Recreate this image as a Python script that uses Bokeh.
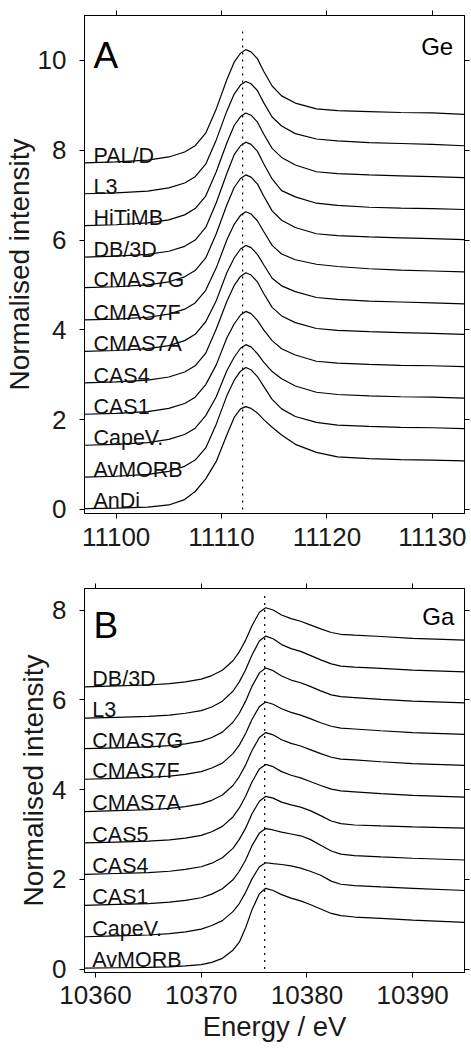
from bokeh.plotting import figure
from bokeh.layouts import column
from bokeh.models import Range1d, LinearAxis, FixedTicker, CustomJSTickFormatter, Label
from bokeh.core.properties import value
from bokeh.embed import file_html
from bokeh.resources import INLINE

FONT = "Liberation Sans"

# ---------------- Panel A: Ge K-edge ----------------
energy_ge = [11097, 11100, 11103, 11105, 11106.5, 11107.5, 11108.5, 11109.5, 11110.5, 11111.2,
             11111.8, 11112.3, 11112.8, 11113.4, 11114, 11114.8, 11115.7, 11117, 11119, 11121,
             11124, 11127, 11130, 11133]
ge_AnDi   = [0.02, 0.03, 0.05, 0.10, 0.22, 0.40, 0.68, 1.07, 1.66, 2.05, 2.24, 2.29, 2.25, 2.15, 2.00, 1.83, 1.66, 1.45, 1.27, 1.17, 1.13, 1.11, 1.10, 1.08]
ge_AvMORB = [0.72, 0.74, 0.78, 0.85, 0.96, 1.10, 1.37, 1.90, 2.53, 2.88, 3.08, 3.16, 3.11, 2.96, 2.74, 2.45, 2.24, 2.07, 1.94, 1.88, 1.85, 1.83, 1.82, 1.80]
ge_CapeV  = [1.43, 1.45, 1.49, 1.56, 1.67, 1.81, 2.09, 2.51, 3.09, 3.39, 3.59, 3.67, 3.62, 3.47, 3.28, 3.07, 2.91, 2.75, 2.61, 2.56, 2.53, 2.51, 2.50, 2.48]
ge_CAS1   = [2.12, 2.14, 2.18, 2.25, 2.36, 2.50, 2.78, 3.22, 3.82, 4.13, 4.33, 4.41, 4.36, 4.21, 4.00, 3.76, 3.58, 3.44, 3.30, 3.26, 3.23, 3.21, 3.20, 3.18]
ge_CAS4   = [2.82, 2.84, 2.88, 2.95, 3.06, 3.20, 3.48, 4.02, 4.63, 4.99, 5.19, 5.27, 5.22, 5.07, 4.81, 4.50, 4.31, 4.16, 4.03, 3.99, 3.96, 3.94, 3.92, 3.90]
ge_CMAS7A = [3.52, 3.54, 3.58, 3.65, 3.76, 3.90, 4.18, 4.65, 5.27, 5.60, 5.80, 5.88, 5.83, 5.68, 5.45, 5.15, 4.98, 4.85, 4.72, 4.68, 4.64, 4.62, 4.60, 4.58]
ge_CMAS7F = [4.22, 4.24, 4.28, 4.35, 4.46, 4.60, 4.88, 5.38, 6.00, 6.35, 6.55, 6.63, 6.58, 6.43, 6.19, 5.88, 5.69, 5.56, 5.46, 5.41, 5.36, 5.33, 5.31, 5.29]
ge_CMAS7G = [4.94, 4.96, 5.00, 5.07, 5.18, 5.32, 5.60, 6.14, 6.78, 7.17, 7.37, 7.45, 7.40, 7.25, 6.98, 6.65, 6.44, 6.28, 6.14, 6.10, 6.07, 6.05, 6.03, 6.01]
ge_DB3D   = [5.62, 5.64, 5.68, 5.75, 5.86, 6.00, 6.28, 6.83, 7.48, 7.90, 8.10, 8.18, 8.13, 7.98, 7.70, 7.36, 7.10, 6.96, 6.82, 6.77, 6.73, 6.71, 6.70, 6.68]
ge_HiTiMB = [6.32, 6.34, 6.38, 6.45, 6.56, 6.70, 6.98, 7.52, 8.16, 8.55, 8.75, 8.83, 8.78, 8.63, 8.36, 8.04, 7.84, 7.67, 7.52, 7.48, 7.45, 7.43, 7.41, 7.39]
ge_L3     = [7.03, 7.05, 7.09, 7.16, 7.27, 7.41, 7.69, 8.23, 8.87, 9.25, 9.45, 9.53, 9.48, 9.33, 9.06, 8.74, 8.54, 8.37, 8.25, 8.21, 8.17, 8.15, 8.13, 8.10]
ge_PALD   = [7.72, 7.74, 7.78, 7.85, 7.96, 8.10, 8.38, 8.92, 9.57, 9.96, 10.16, 10.24, 10.19, 10.04, 9.76, 9.43, 9.21, 9.05, 8.92, 8.88, 8.86, 8.84, 8.83, 8.80]
ge_names  = ["AnDi", "AvMORB", "CapeV.", "CAS1", "CAS4", "CMAS7A", "CMAS7F", "CMAS7G", "DB/3D", "HiTiMB", "L3", "PAL/D"]
ge_series = [ge_AnDi, ge_AvMORB, ge_CapeV, ge_CAS1, ge_CAS4, ge_CMAS7A, ge_CMAS7F, ge_CMAS7G, ge_DB3D, ge_HiTiMB, ge_L3, ge_PALD]
ge_edge = 11112.0
ge_xticks = [11100, 11110, 11120, 11130]
ge_yticks = [0, 2, 4, 6, 8, 10]

# ---------------- Panel B: Ga K-edge ----------------
energy_ga = [10359, 10362, 10365, 10367, 10368.5, 10370, 10371, 10372, 10373, 10373.6, 10374.2,
             10374.8, 10375.5, 10376.1, 10376.8, 10377.6, 10378.5, 10379.4, 10380.3, 10381.3,
             10382.3, 10383.2, 10384.5, 10387, 10390, 10395]
ga_AvMORB = [0.02, 0.03, 0.04, 0.05, 0.07, 0.10, 0.15, 0.24, 0.42, 0.60, 0.92, 1.32, 1.68, 1.80, 1.75, 1.66, 1.58, 1.52, 1.44, 1.34, 1.24, 1.19, 1.16, 1.13, 1.09, 1.04]
ga_CapeV  = [0.72, 0.74, 0.76, 0.79, 0.83, 0.89, 0.97, 1.08, 1.28, 1.46, 1.71, 2.01, 2.28, 2.37, 2.35, 2.33, 2.30, 2.25, 2.18, 2.09, 1.96, 1.89, 1.86, 1.83, 1.80, 1.75]
ga_CAS1   = [1.42, 1.44, 1.46, 1.49, 1.53, 1.59, 1.67, 1.79, 1.99, 2.18, 2.43, 2.75, 3.03, 3.13, 3.10, 3.05, 3.01, 2.97, 2.89, 2.76, 2.63, 2.56, 2.53, 2.50, 2.47, 2.43]
ga_CAS4   = [2.11, 2.13, 2.15, 2.18, 2.22, 2.28, 2.36, 2.48, 2.69, 2.89, 3.14, 3.46, 3.74, 3.85, 3.81, 3.72, 3.66, 3.61, 3.53, 3.42, 3.30, 3.24, 3.21, 3.19, 3.17, 3.14]
ga_CAS5   = [2.81, 2.83, 2.85, 2.88, 2.92, 2.98, 3.06, 3.18, 3.39, 3.59, 3.85, 4.17, 4.46, 4.56, 4.51, 4.40, 4.32, 4.26, 4.18, 4.09, 4.01, 3.97, 3.95, 3.91, 3.87, 3.83]
ga_CMAS7A = [3.51, 3.53, 3.55, 3.58, 3.62, 3.68, 3.76, 3.88, 4.09, 4.29, 4.55, 4.87, 5.16, 5.27, 5.22, 5.11, 5.03, 4.97, 4.89, 4.80, 4.72, 4.68, 4.66, 4.62, 4.58, 4.54]
ga_CMAS7F = [4.23, 4.25, 4.27, 4.30, 4.34, 4.40, 4.48, 4.59, 4.80, 4.99, 5.25, 5.56, 5.85, 5.95, 5.90, 5.80, 5.72, 5.66, 5.58, 5.49, 5.41, 5.37, 5.35, 5.31, 5.27, 5.23]
ga_CMAS7G = [4.91, 4.93, 4.95, 4.98, 5.02, 5.08, 5.16, 5.28, 5.50, 5.70, 5.97, 6.30, 6.60, 6.71, 6.65, 6.53, 6.44, 6.38, 6.30, 6.20, 6.11, 6.07, 6.05, 6.01, 5.97, 5.93]
ga_L3     = [5.59, 5.61, 5.63, 5.66, 5.70, 5.76, 5.84, 5.97, 6.19, 6.40, 6.67, 7.00, 7.31, 7.42, 7.36, 7.23, 7.14, 7.08, 6.99, 6.89, 6.80, 6.75, 6.73, 6.70, 6.66, 6.62]
ga_DB3D   = [6.29, 6.31, 6.33, 6.36, 6.40, 6.46, 6.54, 6.66, 6.87, 7.07, 7.33, 7.65, 7.95, 8.05, 8.00, 7.89, 7.81, 7.75, 7.67, 7.58, 7.50, 7.46, 7.44, 7.41, 7.37, 7.33]
ga_names  = ["AvMORB", "CapeV.", "CAS1", "CAS4", "CAS5", "CMAS7A", "CMAS7F", "CMAS7G", "L3", "DB/3D"]
ga_series = [ga_AvMORB, ga_CapeV, ga_CAS1, ga_CAS4, ga_CAS5, ga_CMAS7A, ga_CMAS7F, ga_CMAS7G, ga_L3, ga_DB3D]
ga_edge = 10376.0
ga_xticks = [10360, 10370, 10380, 10390]
ga_yticks = [0, 2, 4, 6, 8]


def style_axis(ax, ticks, show_labels):
    ax.ticker = FixedTicker(ticks=ticks)
    ax.axis_line_color = "black"
    ax.axis_line_width = 1
    ax.major_tick_line_color = "black"
    ax.major_tick_line_width = 1
    ax.major_tick_out = 5
    ax.major_tick_in = 0
    ax.minor_tick_out = 0
    ax.minor_tick_in = 0
    if show_labels:
        ax.major_label_text_font = FONT
        ax.major_label_text_font_size = "26px"
        ax.major_label_text_color = "#1a1a1a"
    else:
        ax.formatter = CustomJSTickFormatter(code="return ''")
        ax.major_label_text_font_size = "1px"
        ax.major_label_standoff = 0


def make_panel(height, border_top, border_bottom, xr, yr, xticks, yticks, energy, series, names,
               edge, edge_top, label_x, label_dy, letter, letter_xy, elem, elem_xy, xlabel):
    p = figure(width=471, height=height, x_range=Range1d(*xr), y_range=Range1d(*yr),
               min_border_left=84, min_border_right=7, min_border_top=border_top,
               min_border_bottom=border_bottom, output_backend="svg", toolbar_location=None,
               background_fill_color="white", border_fill_color="white")
    p.grid.visible = False
    p.outline_line_color = "black"
    p.outline_line_width = 1

    style_axis(p.xaxis[0], xticks, True)
    p.xaxis[0].major_label_standoff = 9 if xlabel is None else 8
    style_axis(p.yaxis[0], yticks, True)
    p.yaxis[0].major_label_standoff = 13
    p.yaxis[0].axis_label = "Normalised intensity"
    p.yaxis[0].axis_label_text_font = FONT
    p.yaxis[0].axis_label_text_font_size = "28px"
    p.yaxis[0].axis_label_text_font_style = "normal"
    p.yaxis[0].axis_label_text_color = "#1a1a1a"
    p.yaxis[0].axis_label_standoff = 0
    if xlabel:
        p.xaxis[0].axis_label = xlabel
        p.xaxis[0].axis_label_text_font = FONT
        p.xaxis[0].axis_label_text_font_size = "27.5px"
        p.xaxis[0].axis_label_text_font_style = "normal"
        p.xaxis[0].axis_label_text_color = "#1a1a1a"
        p.xaxis[0].axis_label_standoff = 4

    top = LinearAxis()
    style_axis(top, xticks, False)
    p.add_layout(top, "above")
    right = LinearAxis()
    style_axis(right, yticks, False)
    p.add_layout(right, "right")

    # dotted edge-position line
    p.line([edge, edge], [0, edge_top], line_color="black", line_width=1.2, line_dash="2 5")

    for ys in series:
        p.line(energy, ys, line_color="black", line_width=1.2)

    p.text(x=[label_x] * len(series), y=[s[0] + label_dy for s in series], text=names,
           text_font=value(FONT), text_font_size=value("21.5px"), text_color="#111111",
           text_align="left", text_baseline="alphabetic")

    p.add_layout(Label(x=letter_xy[0], y=letter_xy[1], text=letter, text_font=FONT,
                       text_font_size="37px", text_color="black", text_align="left",
                       text_baseline="alphabetic"))
    p.add_layout(Label(x=elem_xy[0], y=elem_xy[1], text=elem, text_font=FONT,
                       text_font_size="24px", text_color="black", text_align="right",
                       text_baseline="alphabetic"))
    return p


pA = make_panel(563, 15, 50, (11097.0, 11133.05), (-0.09, 11.0), ge_xticks, ge_yticks,
                energy_ge, ge_series, ge_names, ge_edge, 10.74, 11097.85, 0.16,
                "A", (11097.85, 10.11), "Ge", (11131.98, 10.30), None)
pB = make_panel(485, 25, 76, (10358.96, 10394.9), (-0.076, 8.48), ga_xticks, ga_yticks,
                energy_ga, ga_series, ga_names, ga_edge, 8.37, 10359.7, 0.18,
                "B", (10359.8, 7.66), "Ga", (10393.93, 7.85), "Energy / eV")

layout = column(pA, pB, spacing=0)
open("out.html", "w").write(file_html(layout, INLINE))
